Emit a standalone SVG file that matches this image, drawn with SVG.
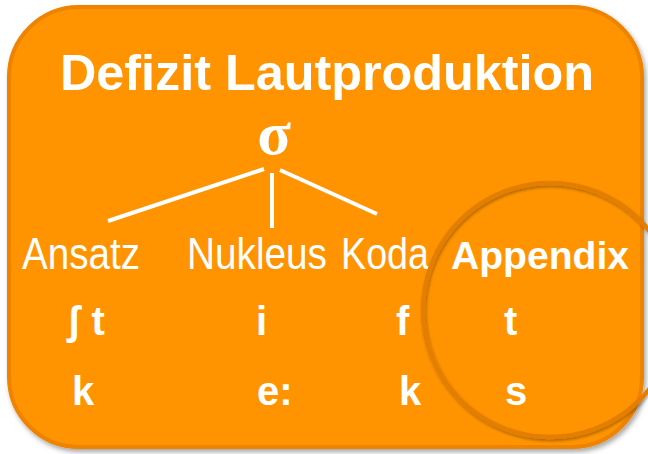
<svg xmlns="http://www.w3.org/2000/svg" width="648" height="454" viewBox="0 0 648 454">
<defs>
<filter id="sh" x="-10%" y="-10%" width="120%" height="120%">
<feDropShadow dx="2" dy="3" stdDeviation="2.5" flood-color="#000" flood-opacity="0.35"/>
</filter>
<filter id="sh2" x="-10%" y="-10%" width="120%" height="120%">
<feDropShadow dx="1" dy="2" stdDeviation="1.5" flood-color="#000" flood-opacity="0.3"/>
</filter>
</defs>
<style>
.t{fill:#fff;font-family:"Liberation Sans",Arial,sans-serif}
.b{font-weight:bold}
.n{font-family:"Liberation Sans Narrow","Liberation Sans",Arial,sans-serif;font-size:44px}
.p{font-size:40px;font-weight:bold}
.c{stroke:#fff;stroke-width:4;fill:none}
</style>
<g id="box">
<rect x="9" y="7" width="633" height="440" rx="70" ry="70" fill="#FF9400" stroke="#EE8300" stroke-width="4" filter="url(#sh)"/>
</g>
<g id="title">
<text class="t b" x="327" y="90" font-size="50" textLength="534" lengthAdjust="spacingAndGlyphs" text-anchor="middle">Defizit Lautproduktion</text>
</g>
<g id="sigma">
<text x="274" y="154" fill="#fff" font-family="Liberation Serif,serif" font-weight="bold" font-size="62" text-anchor="middle">σ</text>
</g>
<g id="connectors">
<line class="c" x1="264" y1="169" x2="108" y2="221"/>
<line class="c" x1="272" y1="173" x2="272" y2="228"/>
<line class="c" x1="280" y1="170" x2="377" y2="214"/>
</g>
<g id="ansatz">
<text class="t n" x="22" y="269" textLength="118" lengthAdjust="spacingAndGlyphs">Ansatz</text>
<text class="t p" x="67" y="335">ʃ t</text>
<text class="t p" x="72" y="405">k</text>
</g>
<g id="nukleus">
<text class="t n" x="187" y="269" textLength="140" lengthAdjust="spacingAndGlyphs">Nukleus</text>
<text class="t p" x="256" y="335">i</text>
<text class="t p" x="257" y="405">e:</text>
</g>
<g id="koda">
<text class="t n" x="341" y="269" textLength="88" lengthAdjust="spacingAndGlyphs">Koda</text>
<text class="t p" x="396" y="335">f</text>
<text class="t p" x="399" y="405">k</text>
</g>
<g id="appendix">
<text class="t b" x="451" y="269" font-size="39" textLength="178" lengthAdjust="spacingAndGlyphs">Appendix</text>
<text class="t p" x="504" y="335">t</text>
<text class="t p" x="505" y="405">s</text>
</g>
<g id="circle">
<circle cx="550" cy="310" r="127" fill="none" stroke="#E47E00" stroke-width="4.5" filter="url(#sh2)"/>
</g>
</svg>
